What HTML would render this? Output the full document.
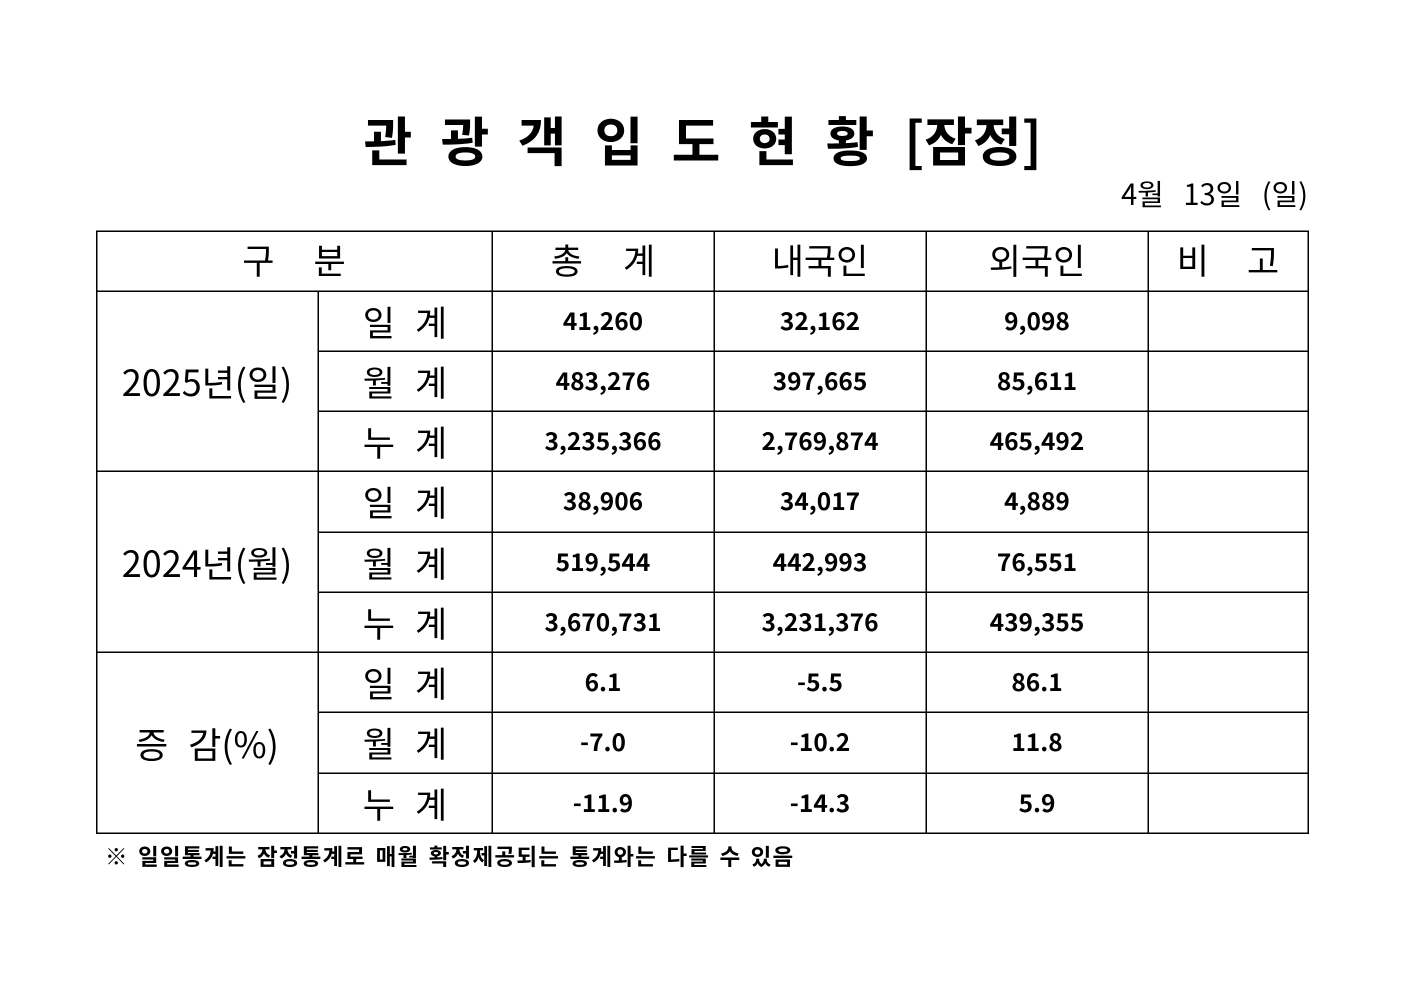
<!DOCTYPE html>
<html><head><meta charset="utf-8">
<style>
html,body{margin:0;padding:0;background:#fff;}
body{width:1403px;height:992px;position:relative;overflow:hidden;font-family:"Liberation Sans","Noto Sans CJK KR",sans-serif;color:#000;}
.t{position:absolute;display:flex;align-items:center;justify-content:center;line-height:1;white-space:nowrap;font-family:"Noto Sans CJK KR","Liberation Sans",sans-serif;}
.ti{font-size:53px;font-weight:bold;width:90px;height:53px;top:113px;}
.h{font-size:35px;font-weight:normal;}
.g{font-size:36px;font-weight:normal;}
.n{font-size:24.5px;font-weight:bold;}
</style></head><body>
<svg width="1403" height="992" style="position:absolute;left:0;top:0" xmlns="http://www.w3.org/2000/svg">
<g stroke="#000" stroke-width="1.5" shape-rendering="crispEdges">
<line x1="96" y1="231" x2="1309" y2="231"/>
<line x1="96" y1="291" x2="1309" y2="291"/>
<line x1="96" y1="471" x2="1309" y2="471"/>
<line x1="96" y1="652" x2="1309" y2="652"/>
<line x1="96" y1="833" x2="1309" y2="833"/>
<line x1="318" y1="351" x2="1309" y2="351"/>
<line x1="318" y1="411" x2="1309" y2="411"/>
<line x1="318" y1="532" x2="1309" y2="532"/>
<line x1="318" y1="592" x2="1309" y2="592"/>
<line x1="318" y1="712" x2="1309" y2="712"/>
<line x1="318" y1="773" x2="1309" y2="773"/>
<line x1="96.5" y1="231" x2="96.5" y2="834"/>
<line x1="1308" y1="231" x2="1308" y2="834"/>
<line x1="318" y1="291" x2="318" y2="834"/>
<line x1="492" y1="231" x2="492" y2="834"/>
<line x1="714" y1="231" x2="714" y2="834"/>
<line x1="926" y1="231" x2="926" y2="834"/>
<line x1="1148" y1="231" x2="1148" y2="834"/>
</g>
</svg>

<!-- title -->
<div class="t ti" style="left:343px">관</div>
<div class="t ti" style="left:420px">광</div>
<div class="t ti" style="left:497px">객</div>
<div class="t ti" style="left:574px">입</div>
<div class="t ti" style="left:651px">도</div>
<div class="t ti" style="left:728px">현</div>
<div class="t ti" style="left:805px">황</div>
<div class="t ti" style="left:893px;width:160px">[잠정]</div>

<!-- date -->
<div class="t" style="left:1000px;width:308px;top:178px;height:30px;justify-content:flex-end;font-size:29px;word-spacing:13px;">4월 13일 (일)</div>

<!-- header -->
<div class="t h" style="left:96px;width:396px;top:229px;height:60px;letter-spacing:39px;padding-left:39px;box-sizing:border-box;">구분</div>
<div class="t h" style="left:492px;width:222px;top:229px;height:60px;letter-spacing:40px;padding-left:40px;box-sizing:border-box;">총계</div>
<div class="t h" style="left:714px;width:212px;top:229px;height:60px;">내국인</div>
<div class="t h" style="left:926px;width:222px;top:229px;height:60px;">외국인</div>
<div class="t h" style="left:1148px;width:160px;top:229px;height:60px;letter-spacing:38px;padding-left:38px;box-sizing:border-box;">비고</div>

<!-- group labels -->
<div class="t g" style="left:96px;width:222px;top:291px;height:180px;">2025년(일)</div>
<div class="t g" style="left:96px;width:222px;top:471px;height:181px;">2024년(월)</div>
<div class="t g" style="left:96px;width:222px;top:652px;height:181px;">증<span style="display:inline-block;width:20px"></span>감(%)</div>

<!-- row labels -->
<div class="t h" style="left:318px;width:174px;top:291px;height:60px;letter-spacing:20px;padding-left:20px;box-sizing:border-box;">일계</div>
<div class="t h" style="left:318px;width:174px;top:351px;height:60px;letter-spacing:20px;padding-left:20px;box-sizing:border-box;">월계</div>
<div class="t h" style="left:318px;width:174px;top:411px;height:60px;letter-spacing:20px;padding-left:20px;box-sizing:border-box;">누계</div>
<div class="t h" style="left:318px;width:174px;top:471px;height:61px;letter-spacing:20px;padding-left:20px;box-sizing:border-box;">일계</div>
<div class="t h" style="left:318px;width:174px;top:532px;height:60px;letter-spacing:20px;padding-left:20px;box-sizing:border-box;">월계</div>
<div class="t h" style="left:318px;width:174px;top:592px;height:60px;letter-spacing:20px;padding-left:20px;box-sizing:border-box;">누계</div>
<div class="t h" style="left:318px;width:174px;top:652px;height:60px;letter-spacing:20px;padding-left:20px;box-sizing:border-box;">일계</div>
<div class="t h" style="left:318px;width:174px;top:712px;height:61px;letter-spacing:20px;padding-left:20px;box-sizing:border-box;">월계</div>
<div class="t h" style="left:318px;width:174px;top:773px;height:60px;letter-spacing:20px;padding-left:20px;box-sizing:border-box;">누계</div>

<!-- numbers: col 총계 -->
<div class="t n" style="left:492px;width:222px;top:291px;height:60px;">41,260</div>
<div class="t n" style="left:492px;width:222px;top:351px;height:60px;">483,276</div>
<div class="t n" style="left:492px;width:222px;top:411px;height:60px;">3,235,366</div>
<div class="t n" style="left:492px;width:222px;top:471px;height:61px;">38,906</div>
<div class="t n" style="left:492px;width:222px;top:532px;height:60px;">519,544</div>
<div class="t n" style="left:492px;width:222px;top:592px;height:60px;">3,670,731</div>
<div class="t n" style="left:492px;width:222px;top:652px;height:60px;">6.1</div>
<div class="t n" style="left:492px;width:222px;top:712px;height:61px;">-7.0</div>
<div class="t n" style="left:492px;width:222px;top:773px;height:60px;">-11.9</div>

<!-- 내국인 -->
<div class="t n" style="left:714px;width:212px;top:291px;height:60px;">32,162</div>
<div class="t n" style="left:714px;width:212px;top:351px;height:60px;">397,665</div>
<div class="t n" style="left:714px;width:212px;top:411px;height:60px;">2,769,874</div>
<div class="t n" style="left:714px;width:212px;top:471px;height:61px;">34,017</div>
<div class="t n" style="left:714px;width:212px;top:532px;height:60px;">442,993</div>
<div class="t n" style="left:714px;width:212px;top:592px;height:60px;">3,231,376</div>
<div class="t n" style="left:714px;width:212px;top:652px;height:60px;">-5.5</div>
<div class="t n" style="left:714px;width:212px;top:712px;height:61px;">-10.2</div>
<div class="t n" style="left:714px;width:212px;top:773px;height:60px;">-14.3</div>

<!-- 외국인 -->
<div class="t n" style="left:926px;width:222px;top:291px;height:60px;">9,098</div>
<div class="t n" style="left:926px;width:222px;top:351px;height:60px;">85,611</div>
<div class="t n" style="left:926px;width:222px;top:411px;height:60px;">465,492</div>
<div class="t n" style="left:926px;width:222px;top:471px;height:61px;">4,889</div>
<div class="t n" style="left:926px;width:222px;top:532px;height:60px;">76,551</div>
<div class="t n" style="left:926px;width:222px;top:592px;height:60px;">439,355</div>
<div class="t n" style="left:926px;width:222px;top:652px;height:60px;">86.1</div>
<div class="t n" style="left:926px;width:222px;top:712px;height:61px;">11.8</div>
<div class="t n" style="left:926px;width:222px;top:773px;height:60px;">5.9</div>

<!-- footnote -->
<div class="t" style="left:105px;top:845px;height:22px;justify-content:flex-start;font-size:22.5px;font-weight:bold;letter-spacing:1.2px;word-spacing:3px;">※ 일일통계는 잠정통계로 매월 확정제공되는 통계와는 다를 수 있음</div>
</body></html>
